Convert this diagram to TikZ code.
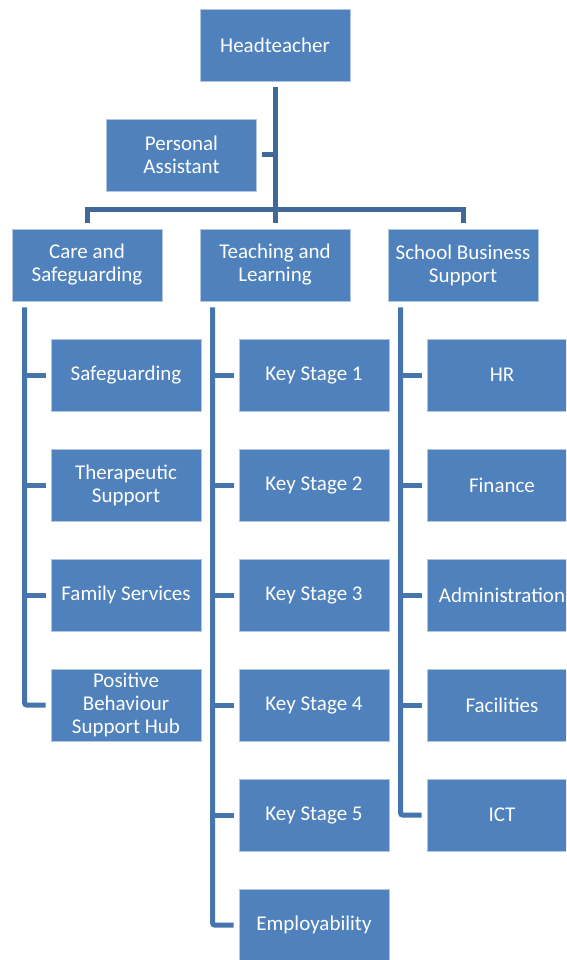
\documentclass[tikz,border=0pt]{standalone}
\usepackage{fontspec}
\setmainfont{Carlito}
\definecolor{boxblue}{HTML}{4F81BD}
\definecolor{topline}{HTML}{40699A}
\definecolor{colline}{HTML}{4674AC}
\tikzset{
  unit/.style={rectangle, fill=boxblue, draw=white!55!boxblue, line width=0.8pt,
    minimum width=150pt, minimum height=72pt, inner sep=1pt, text=white,
    align=center, font=\fontsize{21}{23}\selectfont},
  topconn/.style={draw=topline, line width=5pt},
  colconn/.style={draw=colline, line width=5pt, rounded corners=2pt}
}
\begin{document}
\begin{tikzpicture}[x=1pt,y=-1pt]
\useasboundingbox (0,0) rectangle (566,960);
\clip (0,0) rectangle (566,960);
% top level
\node[unit] (head) at (275,45) {Headteacher};
\node[unit] (pa) at (181.5,155) {Personal\\Assistant};
\node[unit] (care) at (87,265) {Care and\\Safeguarding};
\node[unit] (teach) at (275,265) {Teaching and\\Learning};
\node[unit] (sbs) at (463,265) {School Business\\Support};
% left column
\node[unit] (safe) at (126,375) {Safeguarding};
\node[unit] (ther) at (126,485) {Therapeutic\\Support};
\node[unit] (fam) at (126,595) {Family Services};
\node[unit] (pbs) at (126,705) {Positive\\Behaviour\\Support Hub};
% middle column
\node[unit] (ks1) at (314,375) {Key Stage 1};
\node[unit] (ks2) at (314,485) {Key Stage 2};
\node[unit] (ks3) at (314,595) {Key Stage 3};
\node[unit] (ks4) at (314,705) {Key Stage 4};
\node[unit] (ks5) at (314,815) {Key Stage 5};
\node[unit] (emp) at (314,925) {Employability};
% right column
\node[unit] (hr) at (502,375) {HR};
\node[unit] (fin) at (502,485) {Finance};
\node[unit] (adm) at (502,595) {Administration};
\node[unit] (fac) at (502,705) {Facilities};
\node[unit] (ict) at (502,815) {ICT};
% top connectors
\draw[topconn] ([yshift=-6pt]head.south) -- ([yshift=6pt]teach.north);
\draw[topconn] ([xshift=5pt]pa.east) -- (pa.east -| head.south);
\draw[topconn] ([yshift=6pt]care.north) |- ([yshift=19.5pt]teach.north) -| ([yshift=6pt]sbs.north);
% column connectors
\coordinate (cl) at ([xshift=13pt,yshift=-6pt]care.south west);
\coordinate (tl) at ([xshift=13pt,yshift=-6pt]teach.south west);
\coordinate (sl) at ([xshift=13pt,yshift=-6pt]sbs.south west);
\draw[colconn] (cl) |- ([xshift=-5pt]pbs.west);
\foreach \n in {safe,ther,fam} \draw[colconn] ([xshift=-5pt]\n.west) -- (\n.west -| cl);
\draw[colconn] (tl) |- ([xshift=-5pt]emp.west);
\foreach \n in {ks1,ks2,ks3,ks4,ks5} \draw[colconn] ([xshift=-5pt]\n.west) -- (\n.west -| tl);
\draw[colconn] (sl) |- ([xshift=-5pt]ict.west);
\foreach \n in {hr,fin,adm,fac} \draw[colconn] ([xshift=-5pt]\n.west) -- (\n.west -| sl);
\end{tikzpicture}
\end{document}
